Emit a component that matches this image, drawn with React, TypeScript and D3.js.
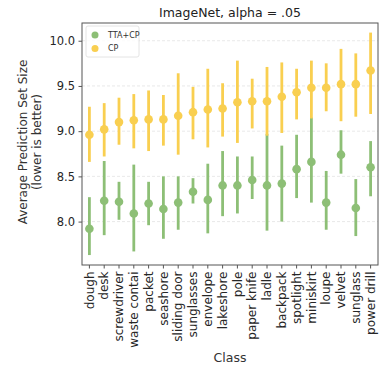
import React, { useEffect, useRef } from "react";
import * as d3 from "d3";

const classes = [
  "dough", "desk", "screwdriver", "waste contai", "packet", "seashore", "sliding door",
  "sunglasses", "envelope", "lakeshore", "pole", "paper knife", "ladle", "backpack",
  "spotlight", "miniskirt", "loupe", "velvet", "sunglass", "power drill",
];

// TTA+CP
const ttaMean = [7.92, 8.23, 8.22, 8.09, 8.2, 8.14, 8.21, 8.33, 8.24, 8.4, 8.4, 8.46, 8.4, 8.42, 8.58, 8.66, 8.21, 8.74, 8.15, 8.6];
const ttaLow = [7.63, 7.85, 8.02, 7.67, 7.96, 7.81, 7.91, 8.2, 7.87, 8.06, 8.09, 8.25, 7.9, 8.0, 8.26, 8.21, 7.91, 8.53, 7.84, 8.28];
const ttaHigh = [8.27, 8.67, 8.44, 8.63, 8.44, 8.5, 8.5, 8.48, 8.64, 8.78, 8.72, 8.72, 8.97, 8.84, 8.96, 9.15, 8.56, 9.01, 8.47, 8.89];

// CP
const cpMean = [8.96, 9.02, 9.1, 9.12, 9.13, 9.13, 9.17, 9.21, 9.24, 9.25, 9.32, 9.33, 9.33, 9.38, 9.43, 9.48, 9.48, 9.52, 9.52, 9.67];
const cpLow = [8.66, 8.72, 8.85, 8.81, 8.78, 8.84, 8.74, 8.91, 8.82, 8.94, 8.87, 9.03, 8.95, 8.98, 9.13, 9.14, 9.22, 9.11, 9.16, 9.19];
const cpHigh = [9.27, 9.31, 9.37, 9.41, 9.45, 9.4, 9.64, 9.49, 9.69, 9.53, 9.78, 9.58, 9.71, 9.76, 9.69, 9.78, 9.75, 9.91, 9.86, 10.09];

const yTicks = [8.0, 8.5, 9.0, 9.5, 10.0];

const GREEN = "#8dbf76";
const YELLOW = "#f9cf50";

export default function App() {
  const ref = useRef<SVGSVGElement | null>(null);
  const width = 379;
  const height = 367;

  useEffect(() => {
    const svg = d3.select(ref.current).html("");
    const m = { left: 82, right: 378, top: 23, bottom: 265 };
    const font = "DejaVu Sans, sans-serif";

    const x = d3.scaleBand().domain(classes).range([m.left, m.right]).padding(0);
    const y = d3.scaleLinear().domain([7.52, 10.196]).range([m.bottom, m.top]);

    svg.append("rect").attr("width", width).attr("height", height).attr("fill", "#fff");

    // grid
    svg.append("g").selectAll("line").data(yTicks).enter().append("line")
      .attr("x1", m.left).attr("x2", m.right)
      .attr("y1", (d) => y(d)).attr("y2", (d) => y(d))
      .attr("stroke", "#e3e3e3").attr("stroke-width", 0.8).attr("stroke-dasharray", "3,2");

    const series = [
      { name: "TTA+CP", color: GREEN, mean: ttaMean, low: ttaLow, high: ttaHigh },
      { name: "CP", color: YELLOW, mean: cpMean, low: cpLow, high: cpHigh },
    ];

    const cx = (c: string) => (x(c) as number) + x.bandwidth() / 2;

    series.forEach((s) => {
      const g = svg.append("g");
      g.selectAll("line").data(classes).enter().append("line")
        .attr("x1", (c) => cx(c)).attr("x2", (c) => cx(c))
        .attr("y1", (_c, i) => y(s.low[i])).attr("y2", (_c, i) => y(s.high[i]))
        .attr("stroke", s.color).attr("stroke-width", 2.8);
      g.selectAll("circle").data(classes).enter().append("circle")
        .attr("cx", (c) => cx(c)).attr("cy", (_c, i) => y(s.mean[i]))
        .attr("r", 4.3).attr("fill", s.color);
    });

    // frame
    svg.append("rect")
      .attr("x", m.left).attr("y", m.top)
      .attr("width", m.right - m.left).attr("height", m.bottom - m.top)
      .attr("fill", "none").attr("stroke", "#555").attr("stroke-width", 1);

    // y axis
    const ya = svg.append("g").attr("transform", `translate(${m.left},0)`)
      .call(d3.axisLeft(y).tickValues(yTicks).tickFormat(d3.format(".1f")).tickSize(3.5).tickPadding(3.5));
    ya.select(".domain").remove();
    ya.selectAll("line").attr("stroke", "#555");
    ya.selectAll("text").attr("font-family", font).attr("font-size", 11.5).attr("fill", "#262626");

    // x axis
    const xa = svg.append("g").attr("transform", `translate(0,${m.bottom})`)
      .call(d3.axisBottom(x).tickSize(3.5).tickPadding(3));
    xa.select(".domain").remove();
    xa.selectAll("line").attr("stroke", "#555");
    xa.selectAll("text")
      .attr("font-family", font).attr("font-size", 12).attr("fill", "#262626")
      .attr("transform", "rotate(-90)")
      .attr("text-anchor", "end")
      .attr("x", -6.5).attr("y", 0).attr("dy", "0.35em");

    // title & labels
    svg.append("text").attr("x", (m.left + m.right) / 2).attr("y", 16.5)
      .attr("text-anchor", "middle").attr("font-family", font).attr("font-size", 12.5)
      .attr("fill", "#222").text("ImageNet, alpha = .05");

    svg.append("text").attr("x", (m.left + m.right) / 2).attr("y", 362)
      .attr("text-anchor", "middle").attr("font-family", font).attr("font-size", 12.5)
      .attr("fill", "#333").text("Class");

    const yl = svg.append("text")
      .attr("transform", `translate(27,142) rotate(-90)`)
      .attr("text-anchor", "middle").attr("font-family", font).attr("font-size", 12)
      .attr("fill", "#333");
    yl.append("tspan").attr("x", 0).attr("dy", 0).text("Average Prediction Set Size");
    yl.append("tspan").attr("x", 0).attr("dy", 14).text("(lower is better)");

    // legend
    const lg = svg.append("g").attr("transform", `translate(86,26)`);
    lg.append("rect").attr("width", 53).attr("height", 31).attr("rx", 2)
      .attr("fill", "#fff").attr("fill-opacity", 0.8).attr("stroke", "#ddd").attr("stroke-width", 0.8);
    series.forEach((s, i) => {
      lg.append("circle").attr("cx", 9).attr("cy", 9 + i * 13.5).attr("r", 3.5).attr("fill", s.color);
      lg.append("text").attr("x", 22).attr("y", 9 + i * 13.5).attr("dy", "0.35em")
        .attr("font-family", font).attr("font-size", 8).attr("fill", "#333").text(s.name);
    });
  }, []);

  return (
    <svg
      ref={ref}
      width={width}
      height={height}
      style={{ position: "absolute", left: 0, top: 0, display: "block" }}
    />
  );
}
